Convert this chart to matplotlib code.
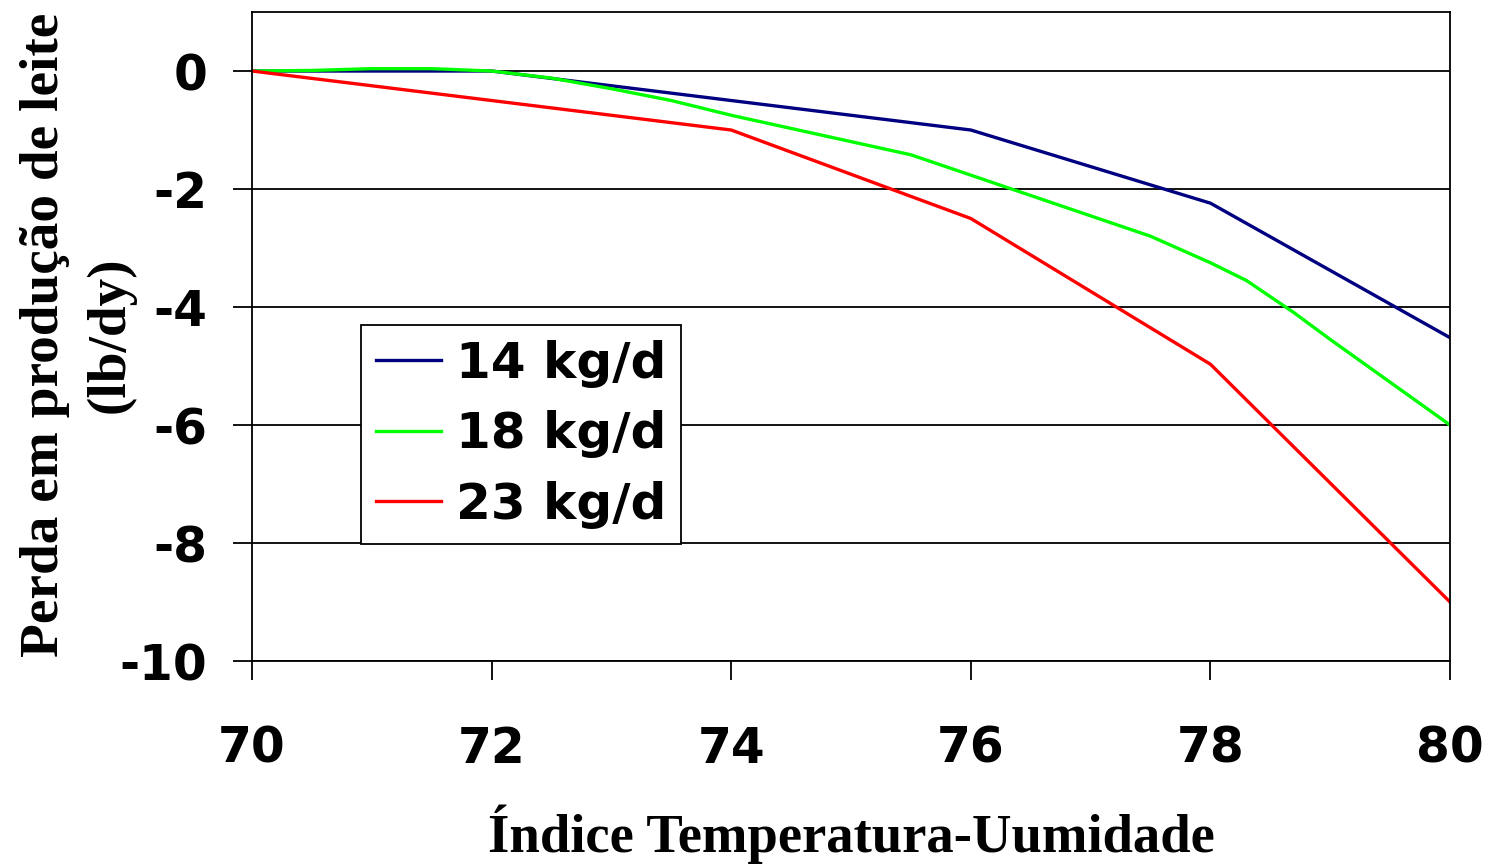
import matplotlib.pyplot as plt

# data
x_blue = [70, 72, 74, 76, 78, 80]
y_blue = [0, 0, -0.5, -1.0, -2.24, -4.52]

x_green = [70, 70.5, 71, 71.5, 72, 72.5, 73, 73.5, 74, 75.5, 77.5, 78, 78.3, 78.7, 79, 80]
y_green = [0, 0.01, 0.04, 0.04, 0, -0.12, -0.3, -0.5, -0.75, -1.42, -2.8, -3.25, -3.55, -4.1, -4.55, -6.0]

x_red = [70, 74, 76, 78, 80]
y_red = [0, -1.0, -2.5, -4.97, -9.0]

labels = ['14 kg/d', '18 kg/d', '23 kg/d']
xticks = [70, 72, 74, 76, 78, 80]
yticks = [0, -2, -4, -6, -8, -10]

fig = plt.figure(figsize=(14.88, 8.65), dpi=100)
ax = fig.add_axes([0.1694, 0.2358, 0.8051, 0.7503])

ax.plot(x_blue, y_blue, color='#000080', lw=2.4, label=labels[0])
ax.plot(x_green, y_green, color='#00ff00', lw=2.4, label=labels[1])
ax.plot(x_red, y_red, color='#ff0000', lw=2.4, label=labels[2])

ax.set_xlim(70, 80)
ax.set_ylim(-10, 1)
ax.set_xticks(xticks)
ax.set_yticks(yticks)
ax.yaxis.grid(True, color='black', lw=1.3)
ax.set_axisbelow(True)
for s in ax.spines.values():
    s.set_linewidth(1.3)
    s.set_color('black')

tick_font = {'family': 'DejaVu Sans', 'weight': 'bold', 'size': 35}
ax.set_xticklabels([str(v) for v in xticks], fontdict=tick_font)
ax.set_yticklabels([str(v) for v in yticks], fontdict=tick_font)
ax.tick_params(axis='x', length=14, width=1.3, pad=32, direction='out')
ax.tick_params(axis='y', length=14, width=1.3, pad=18, direction='out')

leg = ax.legend(loc='upper left', bbox_to_anchor=(0.091, 0.518), borderaxespad=0,
                prop={'family': 'DejaVu Sans', 'weight': 'bold', 'size': 36},
                handlelength=1.3, handletextpad=0.3, borderpad=0.3,
                labelspacing=0.45, fancybox=False, framealpha=1)
leg.get_frame().set_edgecolor('black')
leg.get_frame().set_linewidth(1.3)

fig.text(0.572, 0.036, 'Índice Temperatura-Uumidade', ha='center', va='center',
         family='Liberation Serif', weight='bold', size=39.3)
fig.text(0.052, 0.6127, 'Perda em produção de leite\n(lb/dy)', ha='center', va='center',
         rotation=90, multialignment='center', linespacing=1.4,
         family='Liberation Serif', weight='bold', size=39.8)

fig.savefig('out.png', dpi=100)
